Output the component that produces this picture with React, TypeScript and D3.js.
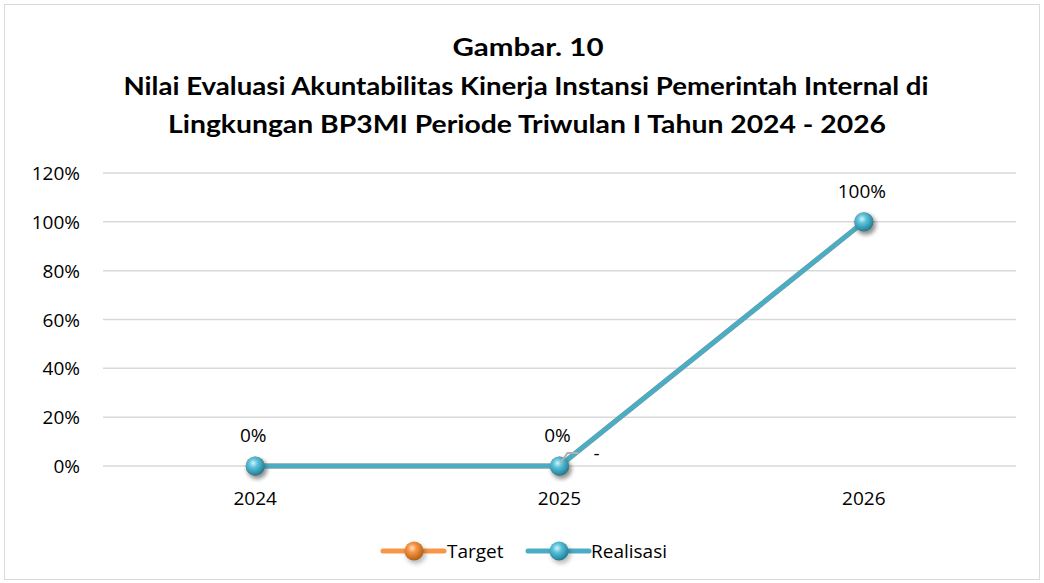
import React from "react";
import * as d3 from "d3";

const categories = ["2024", "2025", "2026"];
const targetValues = [0, 0, 1];
const realisasiValues = [0, 0, 1];
const realisasiLabels = ["0%", "0%", "100%"];
const yTicks = [0, 0.2, 0.4, 0.6, 0.8, 1.0, 1.2];
const titleLines = [
  "Gambar. 10",
  "Nilai Evaluasi Akuntabilitas Kinerja Instansi Pemerintah Internal di",
  "Lingkungan BP3MI Periode Triwulan I Tahun 2024 - 2026",
];

const W = 1044;
const H = 583;
const TITLE_FONT = "Lato, 'Open Sans', sans-serif";
const FONT = "'Open Sans', Lato, sans-serif";

export default function App() {
  const margin = { left: 103, right: 1016, top: 173, bottom: 466 };
  const x = d3
    .scalePoint<string>()
    .domain(categories)
    .range([margin.left, margin.right])
    .padding(0.5);
  const y = d3.scaleLinear().domain([0, 1.2]).range([margin.bottom, margin.top]);
  const line = d3
    .line<number>()
    .x((_, i) => x(categories[i]) as number)
    .y((d) => y(d));
  const blue = "#4BACC6";
  const orange = "#F79646";

  const marker = (cx: number, cy: number, grad: string, key: string) => (
    <g key={key}>
      <circle cx={cx + 2} cy={cy + 3} r={10} fill="rgba(0,0,0,0.25)" filter="url(#blur)" />
      <circle cx={cx} cy={cy} r={9.5} fill={`url(#${grad})`} />
    </g>
  );

  const x2025 = x(categories[1]) as number;

  return (
    <svg
      width={W}
      height={H}
      style={{ position: "absolute", left: 0, top: 0, background: "#fff" }}
      fontFamily={FONT}
    >
      <defs>
        <radialGradient id="gBlue" cx="40%" cy="35%" r="65%">
          <stop offset="0%" stopColor="#d6f1f8" />
          <stop offset="35%" stopColor="#5cc3dc" />
          <stop offset="100%" stopColor="#1f7e97" />
        </radialGradient>
        <radialGradient id="gOrange" cx="40%" cy="35%" r="65%">
          <stop offset="0%" stopColor="#fde2c4" />
          <stop offset="35%" stopColor="#f79646" />
          <stop offset="100%" stopColor="#b45f14" />
        </radialGradient>
        <filter id="blur" x="-50%" y="-50%" width="200%" height="200%">
          <feGaussianBlur stdDeviation="2" />
        </filter>
      </defs>
      <rect x={4.5} y={4.5} width={W - 9} height={H - 8} fill="#fff" stroke="#d9d9d9" strokeWidth={1} />

      {/* titles */}
      <g fontFamily={TITLE_FONT} fontWeight="bold" fill="#000" fontSize={25} textAnchor="middle">
        <text x={528} y={56} textLength={151} lengthAdjust="spacingAndGlyphs">
          {titleLines[0]}
        </text>
        <text x={526} y={95} textLength={805} lengthAdjust="spacingAndGlyphs">
          {titleLines[1]}
        </text>
        <text x={527} y={133} textLength={718} lengthAdjust="spacingAndGlyphs">
          {titleLines[2]}
        </text>
      </g>

      {/* gridlines and y labels */}
      {yTicks.map((t) => (
        <g key={t}>
          <line x1={margin.left} x2={margin.right} y1={y(t)} y2={y(t)} stroke="#d9d9d9" strokeWidth={1.5} />
          <text x={80} y={y(t) + 7} textAnchor="end" fontSize={19} fill="#000">
            {d3.format(".0%")(t)}
          </text>
        </g>
      ))}

      {/* x labels */}
      {categories.map((c) => (
        <text key={c} x={x(c) as number} y={505} textAnchor="middle" fontSize={19} fill="#000">
          {c}
        </text>
      ))}

      {/* target series (beneath) */}
      <path d={line(targetValues) || ""} fill="none" stroke={orange} strokeWidth={5} strokeLinecap="round" />
      {targetValues.map((v, i) => marker(x(categories[i]) as number, y(v), "gOrange", "t" + i))}

      {/* realisasi series */}
      <path d={line(realisasiValues) || ""} fill="none" stroke={blue} strokeWidth={5} strokeLinecap="round" />
      {realisasiValues.map((v, i) => marker(x(categories[i]) as number, y(v), "gBlue", "r" + i))}
      {realisasiValues.map((v, i) => (
        <text key={"l" + i} x={(x(categories[i]) as number) - 2} y={y(v) - 24} textAnchor="middle" fontSize={19} fill="#000">
          {realisasiLabels[i]}
        </text>
      ))}

      {/* leader line and "-" label for target 2025 */}
      <polyline
        points={`${x2025 + 1},${y(0) - 3} ${x2025 + 8},${y(0) - 13} ${x2025 + 19},${y(0) - 13}`}
        fill="none"
        stroke="#b0b0b0"
        strokeWidth={2}
      />
      <text x={x2025 + 37} y={y(0) - 6} textAnchor="middle" fontSize={19} fill="#000">
        -
      </text>

      {/* legend */}
      <g>
        <line x1={383} x2={444} y1={551} y2={551} stroke={orange} strokeWidth={5} strokeLinecap="round" />
        {marker(414, 551, "gOrange", "lt")}
        <text x={447} y={558} fontSize={19} fill="#000">Target</text>
        <line x1={528} x2={589} y1={551} y2={551} stroke={blue} strokeWidth={5} strokeLinecap="round" />
        {marker(559, 551, "gBlue", "lr")}
        <text x={591} y={558} fontSize={19} fill="#000">Realisasi</text>
      </g>
    </svg>
  );
}
